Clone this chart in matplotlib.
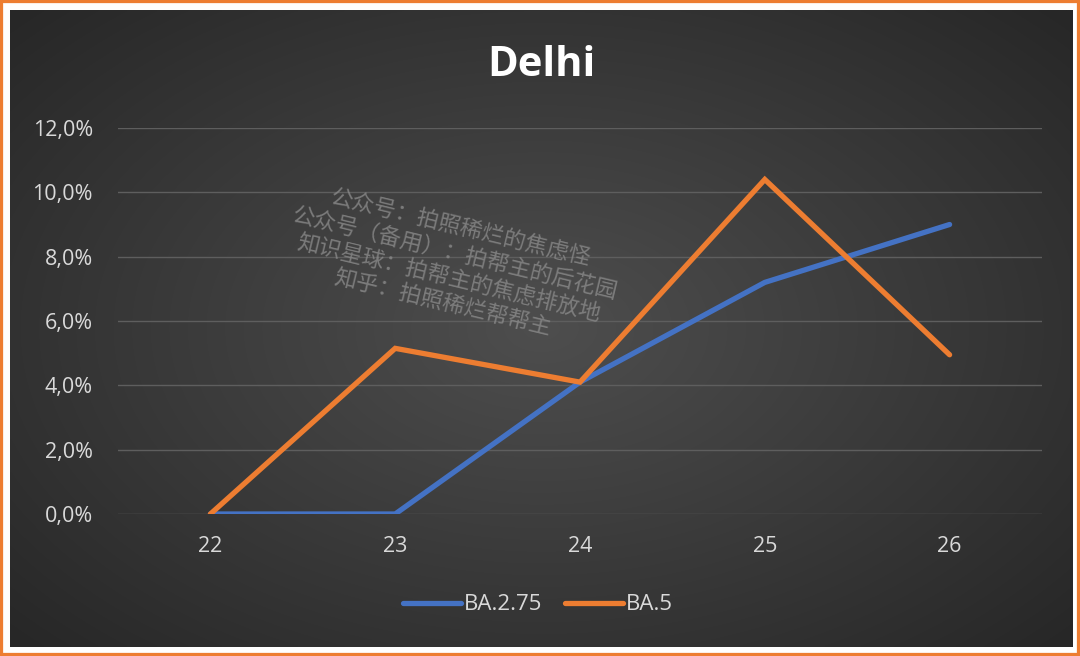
import numpy as np
import matplotlib
matplotlib.use("Agg")
import matplotlib.pyplot as plt
from matplotlib.patches import Rectangle
from matplotlib.ticker import FuncFormatter

categories = ["22", "23", "24", "25", "26"]
ba275 = [0.0, 0.0, 4.1, 7.2, 9.0]
ba5 = [0.0, 5.15, 4.1, 10.4, 4.95]
series_names = ["BA.2.75", "BA.5"]
yticks = [0, 2, 4, 6, 8, 10, 12]
title = "Delhi"
watermark = "公众号：拍照稀烂的焦虑怪\n公众号（备用）：拍帮主的后花园\n知识星球：拍帮主的焦虑排放地\n知乎：拍照稀烂帮帮主"

W, H = 1080, 656
fig = plt.figure(figsize=(W / 100, H / 100), dpi=100)
fig.patch.set_facecolor("white")

# orange outer border
fig.patches.append(Rectangle((0, 0), 1, 1, transform=fig.transFigure,
                             facecolor="none", edgecolor="#ED7D31", linewidth=4.5, zorder=10))

# dark radial gradient panel
px0, px1, py0, py1 = 10, 1073, 10, 647
bg = fig.add_axes([px0 / W, 1 - py1 / H, (px1 - px0) / W, (py1 - py0) / H])
nx, ny = 400, 240
xx, yy = np.meshgrid(np.linspace(-1, 1, nx), np.linspace(-1, 1, ny))
r = np.sqrt((xx * 0.95) ** 2 + (yy * 0.9) ** 2)
r = np.clip(r / 1.3, 0, 1)
c0 = np.array([0x4e, 0x4e, 0x4e]) / 255
c1 = np.array([0x27, 0x27, 0x27]) / 255
img = c0[None, None, :] * (1 - r[..., None]) + c1[None, None, :] * r[..., None]
bg.imshow(img, aspect="auto", extent=[0, 1, 0, 1], interpolation="bilinear")
bg.set_axis_off()
bg.set_zorder(0)

ax = fig.add_axes([118 / W, 1 - 514 / H, (1042 - 118) / W, (514 - 128) / H])
ax.set_zorder(1)
ax.patch.set_alpha(0)
x = np.arange(len(categories))
ax.plot(x, ba275, color="#4472C4", lw=3.8, solid_capstyle="round", solid_joinstyle="miter",
        label=series_names[0], zorder=3)
ax.plot(x, ba5, color="#ED7D31", lw=3.8, solid_capstyle="round", solid_joinstyle="miter",
        label=series_names[1], zorder=4)
ax.set_xlim(-0.5, len(categories) - 0.5)
ax.set_ylim(0, 12)
ax.set_yticks(yticks)
ax.yaxis.set_major_formatter(FuncFormatter(lambda v, p: f"{v:.1f}%".replace(".", ",")))
ax.set_xticks(x)
ax.set_xticklabels(categories)
ax.grid(axis="y", color="#5e5e5e", lw=1.0)
ax.set_axisbelow(True)
for s in ax.spines.values():
    s.set_visible(False)
ax.tick_params(axis="both", length=0, colors="#d9d9d9", labelsize=15.5)
ax.tick_params(axis="y", pad=18)
ax.tick_params(axis="x", pad=16)
for lab in ax.get_xticklabels() + ax.get_yticklabels():
    lab.set_fontfamily("Open Sans")

fig.text(541 / W, 1 - 66 / H, title, ha="center", va="center", color="white",
         fontsize=30, fontweight="bold", family="Open Sans", zorder=5)

fig.text(452 / W, 1 - 266 / H, watermark, ha="center", va="center", rotation=-13.5,
         rotation_mode="anchor", multialignment="center", color="#8a8a8a", alpha=0.8,
         fontsize=16, fontweight="light", family=["Noto Sans CJK SC", "DejaVu Sans"],
         linespacing=1.15, zorder=6)

leg = ax.legend(loc="center", bbox_to_anchor=(538 / W, 1 - 605 / H),
                bbox_transform=fig.transFigure,
                ncol=2, frameon=False, handlelength=2.6, handletextpad=0.15,
                columnspacing=1.0, prop={"family": "Open Sans", "size": 16})
for t in leg.get_texts():
    t.set_color("#d9d9d9")

fig.savefig("out.png", dpi=100, facecolor=fig.get_facecolor())
